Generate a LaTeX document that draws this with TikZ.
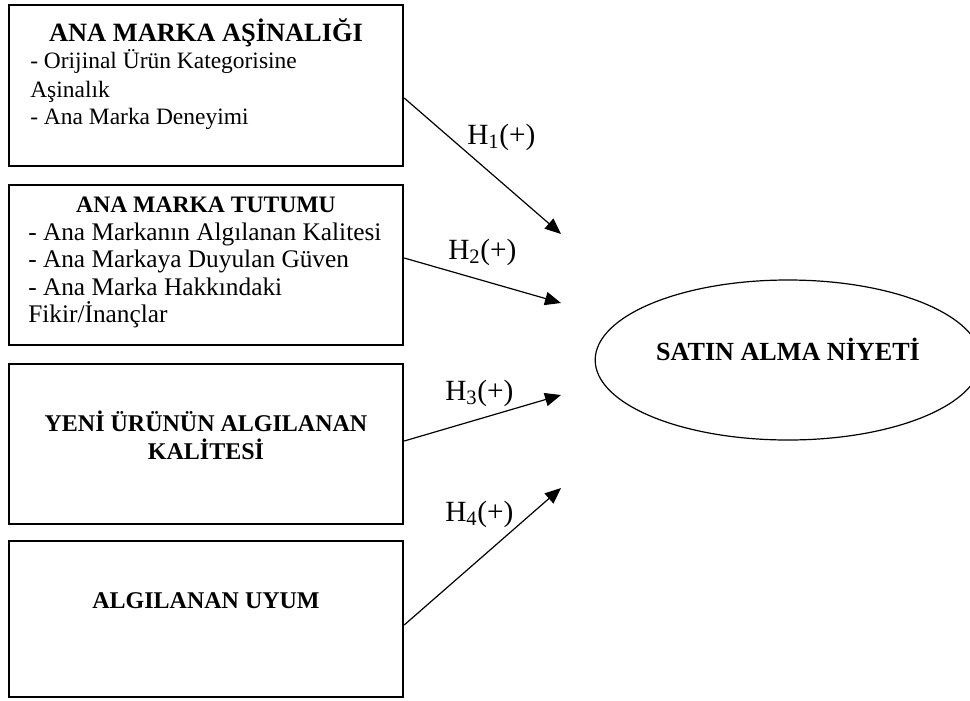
\documentclass[tikz,border=0pt]{standalone}
\usepackage{fontspec}
\setmainfont{Liberation Serif}
\usetikzlibrary{positioning,shapes.geometric,arrows.meta}

\begin{document}
\begin{tikzpicture}[x=0.75pt, y=-0.75pt]
	\tikzset{kutu/.style={draw=black, line width=1.3pt, minimum width=296pt, inner sep=0pt},
	baslik/.style={anchor=base, inner sep=0pt, font=\bfseries\fontsize{18}{21}\selectfont},
	satir/.style={anchor=base west, inner sep=0pt, font=\fontsize{17.6}{21}\selectfont},
	hip/.style={anchor=base west, inner sep=0pt, font=\fontsize{22}{24}\selectfont},
	ok/.style={-{Triangle[length=12pt, width=10pt]}, line width=0.9pt}};

	\useasboundingbox (0,0) rectangle (970,700);

	% kutular
	\node[kutu, minimum height=120.75pt] (k1) at (206,85.5) {};
	\node[kutu, minimum height=120pt] (k2) at (206,265) {};
	\node[kutu, minimum height=120pt] (k3) at (206,444) {};
	\node[kutu, minimum height=117pt] (k4) at (206,619) {};

	\node[baslik, font=\bfseries\fontsize{19.8}{22}\selectfont] (b1) at (206,41) {ANA MARKA AŞİNALIĞI};
	\node[satir] (s11) at (30,68) {- Orijinal Ürün Kategorisine};
	\node[satir] (s12) at (30,97) {Aşinalık};
	\node[satir] (s13) at (30,124) {- Ana Marka Deneyimi};

	\node[baslik, font=\bfseries\fontsize{17.7}{21}\selectfont] (b2) at (206,212) {ANA MARKA TUTUMU};
	\node[satir, font=\fontsize{19}{22}\selectfont] (s21) at (28,240) {- Ana Markanın Algılanan Kalitesi};
	\node[satir, font=\fontsize{19}{22}\selectfont] (s22) at (28,267) {- Ana Markaya Duyulan Güven};
	\node[satir, font=\fontsize{19}{22}\selectfont] (s23) at (28,295) {- Ana Marka Hakkındaki};
	\node[satir, font=\fontsize{19}{22}\selectfont] (s24) at (28,322) {Fikir/İnançlar};

	\node[baslik] (b3) at (206,431) {YENİ ÜRÜNÜN ALGILANAN};
	\node[baslik] (b3b) at (206,459) {KALİTESİ};

	\node[baslik] (b4) at (206,608) {ALGILANAN UYUM};

	% niyet
	\node[draw=black, ellipse, line width=0.9pt, minimum width=276pt, minimum height=120pt,
		text height=14pt, text depth=14pt,
		font=\bfseries\fontsize{19.6}{22}\selectfont] (n) at (788,360) {SATIN ALMA NİYETİ};

	% oklar
	\coordinate (u1) at (561,234);
	\coordinate (u2) at (561,303);
	\coordinate (u3) at (561,395);
	\coordinate (u4) at (561,488);

	\draw[ok] (k1.east |- 0,98) -- (u1);
	\draw[ok] (k2.east |- 0,258) -- (u2);
	\draw[ok] (k3.east |- 0,441) -- (u3);
	\draw[ok] (k4.east |- 0,625) -- (u4);

	\node[hip] (h1) at (467,144) {H\textsubscript{1}(+)};
	\node[hip] (h2) at (448,259) {H\textsubscript{2}(+)};
	\node[hip] (h3) at (445,400) {H\textsubscript{3}(+)};
	\node[hip] (h4) at (445,521) {H\textsubscript{4}(+)};
\end{tikzpicture}
\end{document}
